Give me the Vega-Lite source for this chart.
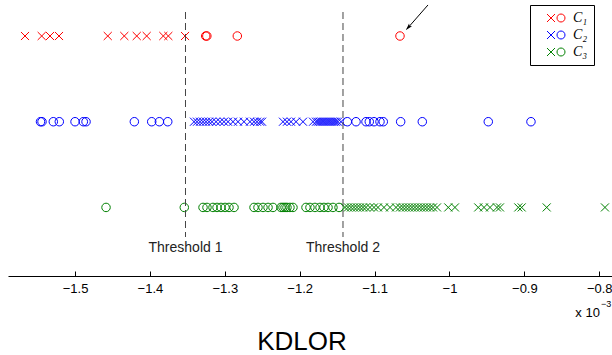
{
 "$schema": "https://vega.github.io/schema/vega-lite/v6.json",
 "width": 604,
 "height": 276,
 "autosize": {"type": "none"},
 "padding": {"left": 8, "top": 0, "right": 0, "bottom": 79},
 "background": "white",
 "config": {"view": {"stroke": null}},
 "title": {"text": "KDLOR", "orient": "bottom", "fontSize": 26, "fontWeight": "normal", "font": "Liberation Sans", "color": "black", "offset": 9, "dx": -8},
 "datasets": {
  "thr": [{"t": -1.3525, "label": "Threshold 1"}, {"t": -1.1422, "label": "Threshold 2"}],
  "pts": [
    {"c":"C1","m":"x","v":-1.5668},{"c":"C1","m":"x","v":-1.5445},{"c":"C1","m":"x","v":-1.5334},{"c":"C1","m":"x","v":-1.5214},
    {"c":"C1","m":"x","v":-1.4563},{"c":"C1","m":"x","v":-1.4342},{"c":"C1","m":"x","v":-1.4176},{"c":"C1","m":"x","v":-1.4043},
    {"c":"C1","m":"x","v":-1.3821},{"c":"C1","m":"x","v":-1.3754},{"c":"C1","m":"x","v":-1.3531},
    {"c":"C1","m":"o","v":-1.3255},{"c":"C1","m":"o","v":-1.3240},{"c":"C1","m":"o","v":-1.2833},{"c":"C1","m":"o","v":-1.0661},
    {"c":"C2","m":"o","v":-1.5461},{"c":"C2","m":"o","v":-1.5441},{"c":"C2","m":"o","v":-1.5290},{"c":"C2","m":"o","v":-1.5210},
    {"c":"C2","m":"o","v":-1.5},{"c":"C2","m":"o","v":-1.4889},{"c":"C2","m":"o","v":-1.4853},{"c":"C2","m":"o","v":-1.4208},
    {"c":"C2","m":"o","v":-1.3976},{"c":"C2","m":"o","v":-1.3874},{"c":"C2","m":"o","v":-1.3762},
    {"c":"C2","m":"x","v":-1.3411},{"c":"C2","m":"x","v":-1.3371},{"c":"C2","m":"x","v":-1.3331},{"c":"C2","m":"x","v":-1.3291},
    {"c":"C2","m":"x","v":-1.3251},{"c":"C2","m":"x","v":-1.3211},{"c":"C2","m":"x","v":-1.3171},{"c":"C2","m":"x","v":-1.3117},
    {"c":"C2","m":"x","v":-1.3064},{"c":"C2","m":"x","v":-1.3011},{"c":"C2","m":"x","v":-1.2957},{"c":"C2","m":"x","v":-1.2891},
    {"c":"C2","m":"x","v":-1.2824},{"c":"C2","m":"x","v":-1.2744},{"c":"C2","m":"x","v":-1.2664},{"c":"C2","m":"x","v":-1.2610},
    {"c":"C2","m":"x","v":-1.2570},{"c":"C2","m":"x","v":-1.2530},{"c":"C2","m":"x","v":-1.2503},{"c":"C2","m":"x","v":-1.2223},
    {"c":"C2","m":"x","v":-1.2170},{"c":"C2","m":"x","v":-1.2116},{"c":"C2","m":"x","v":-1.2049},{"c":"C2","m":"x","v":-1.1956},
    {"c":"C2","m":"x","v":-1.1822},{"c":"C2","m":"x","v":-1.1782},{"c":"C2","m":"x","v":-1.1756},{"c":"C2","m":"x","v":-1.1729},
    {"c":"C2","m":"x","v":-1.1702},{"c":"C2","m":"x","v":-1.1676},{"c":"C2","m":"x","v":-1.1649},{"c":"C2","m":"x","v":-1.1622},
    {"c":"C2","m":"x","v":-1.1596},{"c":"C2","m":"x","v":-1.1569},{"c":"C2","m":"x","v":-1.1542},{"c":"C2","m":"x","v":-1.1516},
    {"c":"C2","m":"x","v":-1.1489},{"c":"C2","m":"x","v":-1.1449},
    {"c":"C2","m":"o","v":-1.1364},{"c":"C2","m":"o","v":-1.1248},{"c":"C2","m":"o","v":-1.1115},{"c":"C2","m":"o","v":-1.1071},
    {"c":"C2","m":"o","v":-1.1008},{"c":"C2","m":"o","v":-1.0928},{"c":"C2","m":"o","v":-1.0884},{"c":"C2","m":"o","v":-1.0652},
    {"c":"C2","m":"o","v":-1.0363},{"c":"C2","m":"o","v":-0.9482},{"c":"C2","m":"o","v":-0.8912},
    {"c":"C3","m":"o","v":-1.4586},{"c":"C3","m":"o","v":-1.3541},{"c":"C3","m":"o","v":-1.3291},{"c":"C3","m":"o","v":-1.3238},
    {"c":"C3","m":"o","v":-1.3158},{"c":"C3","m":"o","v":-1.3104},{"c":"C3","m":"o","v":-1.3051},{"c":"C3","m":"o","v":-1.2997},
    {"c":"C3","m":"o","v":-1.2944},{"c":"C3","m":"o","v":-1.2877},{"c":"C3","m":"o","v":-1.2610},{"c":"C3","m":"o","v":-1.2557},
    {"c":"C3","m":"o","v":-1.2490},{"c":"C3","m":"o","v":-1.2423},{"c":"C3","m":"o","v":-1.2357},{"c":"C3","m":"o","v":-1.2250},
    {"c":"C3","m":"o","v":-1.2223},{"c":"C3","m":"o","v":-1.2196},{"c":"C3","m":"o","v":-1.2170},{"c":"C3","m":"o","v":-1.2130},
    {"c":"C3","m":"o","v":-1.2090},{"c":"C3","m":"o","v":-1.1916},{"c":"C3","m":"o","v":-1.1863},{"c":"C3","m":"o","v":-1.1796},
    {"c":"C3","m":"o","v":-1.1729},{"c":"C3","m":"o","v":-1.1676},{"c":"C3","m":"o","v":-1.1622},{"c":"C3","m":"o","v":-1.1556},
    {"c":"C3","m":"o","v":-1.1475},
    {"c":"C3","m":"x","v":-1.1395},{"c":"C3","m":"x","v":-1.1355},{"c":"C3","m":"x","v":-1.1315},{"c":"C3","m":"x","v":-1.1275},
    {"c":"C3","m":"x","v":-1.1235},{"c":"C3","m":"x","v":-1.1195},{"c":"C3","m":"x","v":-1.1155},{"c":"C3","m":"x","v":-1.1115},
    {"c":"C3","m":"x","v":-1.1062},{"c":"C3","m":"x","v":-1.1008},{"c":"C3","m":"x","v":-1.0955},{"c":"C3","m":"x","v":-1.0875},
    {"c":"C3","m":"x","v":-1.0794},{"c":"C3","m":"x","v":-1.0714},{"c":"C3","m":"x","v":-1.0661},{"c":"C3","m":"x","v":-1.0621},
    {"c":"C3","m":"x","v":-1.0581},{"c":"C3","m":"x","v":-1.0541},{"c":"C3","m":"x","v":-1.0501},{"c":"C3","m":"x","v":-1.0461},
    {"c":"C3","m":"x","v":-1.0421},{"c":"C3","m":"x","v":-1.0381},{"c":"C3","m":"x","v":-1.0341},{"c":"C3","m":"x","v":-1.0301},
    {"c":"C3","m":"x","v":-1.0260},{"c":"C3","m":"x","v":-1.0220},{"c":"C3","m":"x","v":-1.0167},{"c":"C3","m":"x","v":-1.0016},
    {"c":"C3","m":"x","v":-0.9927},{"c":"C3","m":"x","v":-0.9616},{"c":"C3","m":"x","v":-0.9539},{"c":"C3","m":"x","v":-0.9459},
    {"c":"C3","m":"x","v":-0.9366},{"c":"C3","m":"x","v":-0.9326},{"c":"C3","m":"x","v":-0.9081},{"c":"C3","m":"x","v":-0.9036},
    {"c":"C3","m":"x","v":-0.8702},{"c":"C3","m":"x","v":-0.7924}
  ]
 },
 "layer": [
  {
   "data": {"name": "pts"},
   "transform": [{"calculate": "datum.c == 'C1' ? 3 : datum.c == 'C2' ? 2 : 1", "as": "row"}],
   "mark": {"type": "point", "filled": false, "strokeWidth": 1, "size": 72, "opacity": 1},
   "encoding": {
    "x": {"field": "v", "type": "quantitative",
     "scale": {"domain": [-1.5895, -0.783], "nice": false, "zero": false},
     "axis": {"values": [-1.5, -1.4, -1.3, -1.2, -1.1, -1, -0.9, -0.8], "format": "~g", "title": null, "grid": false,
      "tickSize": -5, "domainColor": "black", "tickColor": "black", "labelColor": "black", "labelFontSize": 13,
      "labelPadding": 11, "labelFont": "Liberation Sans"}},
    "y": {"field": "row", "type": "quantitative", "scale": {"domain": [0.2, 3.42], "nice": false, "zero": false}, "axis": null},
    "color": {"field": "c", "type": "nominal",
     "scale": {"domain": ["C1", "C2", "C3"], "range": ["#ff0000", "#0000ff", "#008000"]},
     "legend": {"title": null, "orient": "none", "legendX": 522, "legendY": 5,
      "symbolType": "M1,-1L3,1M1,1L3,-1M5.5,0A1,1 0 1,1 3.5,0A1,1 0 1,1 5.5,0Z",
      "symbolSize": 64, "symbolStrokeWidth": 1, "labelFont": "Liberation Serif", "labelFontStyle": "italic",
      "labelFontSize": 14, "labelOffset": 23, "labelColor": "black",
      "labelExpr": "datum.label == 'C1' ? 'C₁' : datum.label == 'C2' ? 'C₂' : 'C₃'",
      "strokeColor": "black", "padding": 6, "fillColor": "white", "rowPadding": 3}},
    "shape": {"field": "m", "type": "nominal",
     "scale": {"domain": ["x", "o"], "range": ["M-0.95,-0.95L0.95,0.95M-0.95,0.95L0.95,-0.95", "circle"]}, "legend": null}
   }
  },
  {
   "data": {"name": "thr"},
   "mark": {"type": "rule", "strokeDash": [7, 4], "color": "#444444", "strokeWidth": 1},
   "encoding": {"x": {"field": "t", "type": "quantitative"}, "y": {"datum": 3.28}, "y2": {"datum": 0.655}}
  },
  {
   "data": {"name": "thr"},
   "mark": {"type": "text", "fontSize": 14, "color": "#222222", "baseline": "middle", "font": "Liberation Sans"},
   "encoding": {"x": {"field": "t", "type": "quantitative"}, "y": {"datum": 0.527}, "text": {"field": "label"}}
  },
  {
   "data": {"values": [{"a": 1}]},
   "mark": {"type": "rule", "color": "black", "strokeWidth": 1},
   "encoding": {"x": {"datum": -1.0287}, "x2": {"datum": -1.0572}, "y": {"datum": 3.362}, "y2": {"datum": 3.078}}
  },
  {
   "data": {"values": [{"a": 1}]},
   "mark": {"type": "point", "shape": "M0,0L-0.5,1.7L0,1.35L0.5,1.7Z", "filled": true, "color": "black", "angle": 222, "size": 64, "opacity": 1},
   "encoding": {"x": {"datum": -1.0581}, "y": {"datum": 3.07}}
  },
  {
   "data": {"values": [{"a": 1}]},
   "mark": {"type": "text", "text": "x 10", "align": "right", "baseline": "middle", "fontSize": 13, "color": "black", "font": "Liberation Sans"},
   "encoding": {"x": {"datum": -0.7991}, "y": {"datum": -0.226}}
  },
  {
   "data": {"values": [{"a": 1}]},
   "mark": {"type": "text", "text": "−3", "align": "left", "baseline": "middle", "fontSize": 9, "color": "black", "font": "Liberation Sans"},
   "encoding": {"x": {"datum": -0.7977}, "y": {"datum": -0.127}}
  }
 ]
}
